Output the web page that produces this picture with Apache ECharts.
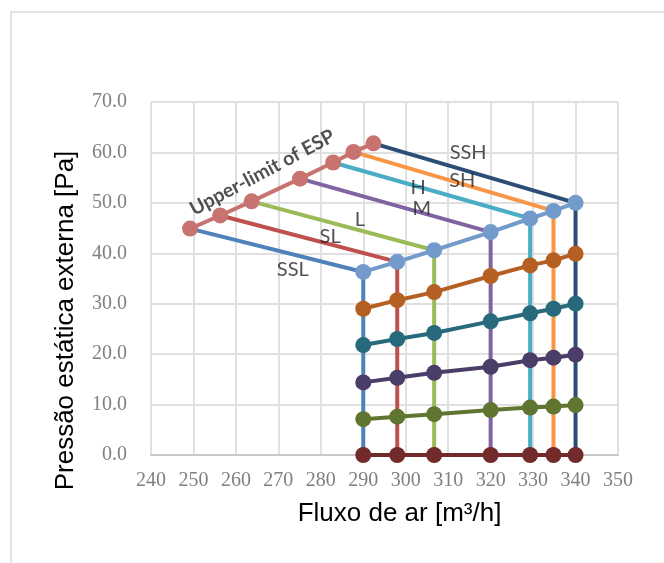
<!DOCTYPE html>
<html><head><meta charset="utf-8">
<script src="https://cdn.jsdelivr.net/npm/echarts@6/dist/echarts.min.js"></script>
<style>html,body{margin:0;padding:0;background:#fff}#c{width:664px;height:563px}</style>
</head><body><div id="c"></div>
<script>
// ---- data ----
const fanSpeeds = ['SSL', 'SL', 'L', 'M', 'H', 'SH', 'SSH'];
const airflow = [290, 298, 306.7, 320, 329.3, 334.8, 340];
const upperLimitX = [249.2, 256.3, 263.7, 275.1, 282.9, 287.7, 292.4];
const upperLimitY = [44.9, 47.5, 50.3, 54.8, 58.0, 60.1, 61.8];
const esp1 = [36.3, 38.3, 40.6, 44.2, 46.9, 48.4, 50.0];
const esp2 = [29.0, 30.7, 32.3, 35.5, 37.6, 38.6, 39.9];
const esp3 = [21.8, 23.0, 24.2, 26.5, 28.1, 29.0, 30.0];
const esp4 = [14.4, 15.3, 16.3, 17.5, 18.8, 19.3, 19.9];
const esp5 = [7.1, 7.6, 8.1, 8.9, 9.4, 9.6, 9.9];
const esp6 = [0, 0, 0, 0, 0, 0, 0];
const upperLimitName = 'Upper-limit of ESP';
// label anchor points (data units)
const labelX = [273.4, 282.2, 289.2, 303.8, 302.9, 313.3, 314.7];
const labelY = [36.8, 43.4, 46.7, 48.9, 53.1, 54.5, 60.0];
const upperLabelX = 266.2, upperLabelY = 56.0;
const xMin = 240, xMax = 350, xStep = 10;
const yMin = 0, yMax = 70, yStep = 10;

// ---- styles ----
const fanColors = ['#4f81bd', '#c0504d', '#9bbb59', '#8064a2', '#4bacc6', '#f79646', '#2c4d75'];
const espColors = ['#729aca', '#b65f22', '#276a7c', '#4a3d68', '#5f7530', '#722a2a'];
const upperColor = '#c97370';

const espCurves = [esp1, esp2, esp3, esp4, esp5, esp6];
const series = [];

fanSpeeds.forEach((name, i) => {
  series.push({
    name: name, type: 'line', showSymbol: false, symbol: 'none',
    lineStyle: { color: fanColors[i], width: 4 },
    itemStyle: { color: fanColors[i] },
    z: 2, silent: true,
    data: [[upperLimitX[i], upperLimitY[i]], [airflow[i], esp1[i]], [airflow[i], 0]]
  });
});

espCurves.slice().reverse().forEach((curve, k) => {
  const idx = espCurves.length - 1 - k;
  series.push({
    name: 'ESP' + (idx + 1), type: 'line', symbol: 'circle', symbolSize: 16,
    lineStyle: { color: espColors[idx], width: 4 },
    itemStyle: { color: espColors[idx] },
    z: 3, silent: true,
    data: airflow.map((x, j) => [x, curve[j]])
  });
});

series.push({
  name: upperLimitName, type: 'line', symbol: 'circle', symbolSize: 16,
  lineStyle: { color: upperColor, width: 4 },
  itemStyle: { color: upperColor },
  z: 4, silent: true,
  data: upperLimitX.map((x, j) => [x, upperLimitY[j]])
});

series.push({
  type: 'scatter', symbolSize: 0, silent: true, z: 5,
  label: { show: true, position: 'inside', formatter: p => p.name,
    fontFamily: 'Lato', fontSize: 20, color: '#262626' },
  data: fanSpeeds.map((n, i) => ({ name: n, value: [labelX[i], labelY[i]] })).concat([
    { name: upperLimitName, value: [upperLabelX, upperLabelY],
      label: { rotate: 28, fontWeight: 'bold', fontSize: 19.5 } }
  ])
});

const chart = echarts.init(document.getElementById('c'));
chart.setOption({
  animation: false,
  backgroundColor: '#fff',
  grid: { left: 151, right: 46, top: 102, bottom: 108 },
  graphic: [{ type: 'rect', shape: { x: 11, y: 12, width: 720, height: 620 },
    style: { fill: 'none', stroke: '#d9d9d9', lineWidth: 1.5 }, silent: true }],
  xAxis: {
    type: 'value', min: xMin, max: xMax, interval: xStep,
    name: 'Fluxo de ar [m³/h]', nameLocation: 'middle', nameGap: 46,
    nameTextStyle: { fontFamily: 'Liberation Sans', fontSize: 26, color: '#000', padding: [0, 0, 0, 30] },
    axisLine: { show: true, lineStyle: { color: '#c8c8c8', width: 2 } },
    axisTick: { show: false },
    axisLabel: { fontFamily: 'Liberation Serif', fontSize: 20, color: '#808080', margin: 16 },
    splitLine: { show: true, lineStyle: { color: '#e0e0e0', width: 2 } }
  },
  yAxis: {
    type: 'value', min: yMin, max: yMax, interval: yStep,
    name: 'Pressão estática externa [Pa]', nameLocation: 'middle', nameGap: 72,
    nameTextStyle: { fontFamily: 'Liberation Sans', fontSize: 26, color: '#000', padding: [0, 84, 0, 0] },
    axisLine: { show: false }, axisTick: { show: false },
    axisLabel: { fontFamily: 'Liberation Serif', fontSize: 20, color: '#808080', margin: 24,
      formatter: v => v.toFixed(1) },
    splitLine: { show: true, lineStyle: { color: '#e0e0e0', width: 2 } }
  },
  series: series
});
</script>
</body></html>
